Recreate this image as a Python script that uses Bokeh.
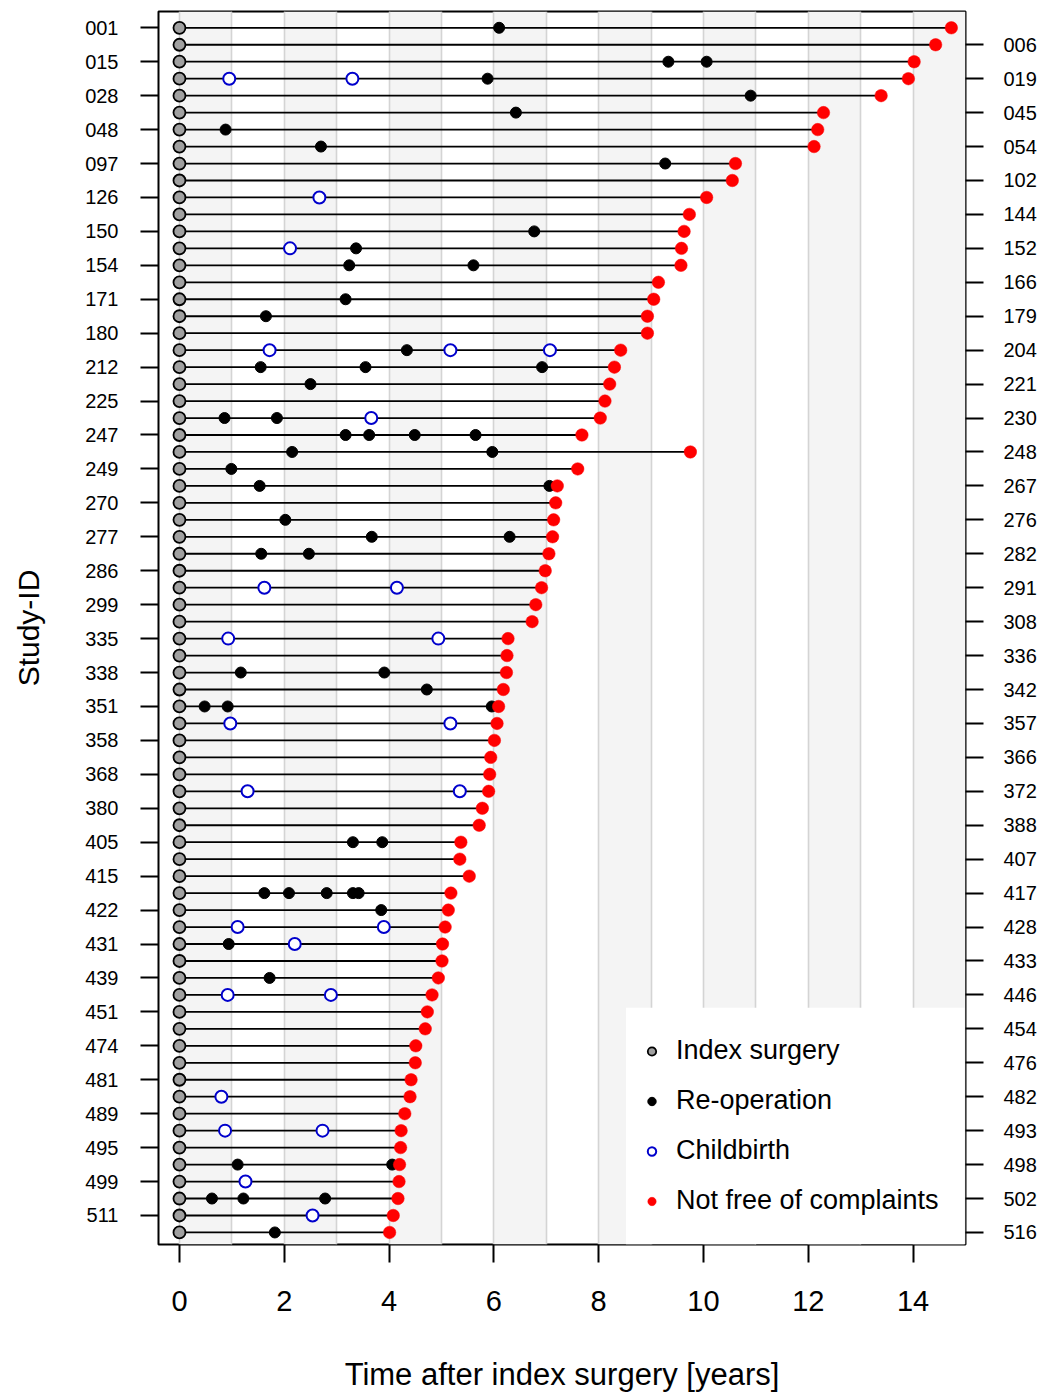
from bokeh.plotting import figure
from bokeh.models import (ColumnDataSource, FixedTicker, LinearAxis, Range1d,
                          Legend, LegendItem, BoxAnnotation)
from bokeh.embed import file_html
from bokeh.resources import INLINE

# ---------------- data ----------------
ids = ["001", "006", "015", "019", "028", "045", "048", "054", "097", "102",
       "126", "144", "150", "152", "154", "166", "171", "179", "180", "204",
       "212", "221", "225", "230", "247", "248", "249", "267", "270", "276",
       "277", "282", "286", "291", "299", "308", "335", "336", "338", "342",
       "351", "357", "358", "366", "368", "372", "380", "388", "405", "407",
       "415", "417", "422", "428", "431", "433", "439", "446", "451", "454",
       "474", "476", "481", "482", "489", "493", "495", "498", "499", "502",
       "511", "516"]

# time of "not free of complaints" (end of each line), years
end_years = [14.73, 14.43, 14.02, 13.91, 13.39, 12.29, 12.18, 12.11, 10.61, 10.55,
             10.06, 9.73, 9.63, 9.58, 9.57, 9.14, 9.05, 8.93, 8.93, 8.42,
             8.30, 8.21, 8.12, 8.03, 7.68, 9.75, 7.60, 7.21, 7.18, 7.14,
             7.12, 7.05, 6.98, 6.91, 6.80, 6.73, 6.27, 6.25, 6.24, 6.18,
             6.09, 6.06, 6.01, 5.94, 5.92, 5.90, 5.78, 5.72, 5.37, 5.35,
             5.53, 5.18, 5.13, 5.07, 5.02, 5.01, 4.94, 4.82, 4.73, 4.69,
             4.51, 4.50, 4.42, 4.40, 4.30, 4.23, 4.22, 4.20, 4.19, 4.17,
             4.08, 4.01]

reoperations = {
    "001": [6.10], "015": [9.33, 10.06], "019": [5.88], "028": [10.90],
    "045": [6.42], "048": [0.88], "054": [2.70], "097": [9.27],
    "150": [6.77], "152": [3.37], "154": [3.24, 5.61], "171": [3.17],
    "179": [1.65], "204": [4.34], "212": [1.55, 3.55, 6.92], "221": [2.50],
    "230": [0.86, 1.86], "247": [3.17, 3.62, 4.49, 5.65], "248": [2.15, 5.97],
    "249": [0.99], "267": [1.53, 7.06], "276": [2.02], "277": [3.67, 6.30],
    "282": [1.56, 2.47], "338": [1.17, 3.91], "342": [4.72],
    "351": [0.48, 0.92, 5.96], "405": [3.31, 3.87],
    "417": [1.62, 2.09, 2.81, 3.31, 3.42], "422": [3.85], "431": [0.94],
    "439": [1.72], "498": [1.11, 4.06], "502": [0.62, 1.22, 2.78], "516": [1.82],
}

childbirths = {
    "019": [0.95, 3.30], "126": [2.67], "152": [2.11], "204": [1.72, 5.17, 7.07],
    "230": [3.66], "291": [1.62, 4.15], "335": [0.93, 4.94], "357": [0.97, 5.17],
    "372": [1.30, 5.35], "428": [1.11, 3.90], "431": [2.20], "446": [0.92, 2.89],
    "482": [0.80], "493": [0.87, 2.73], "499": [1.26], "511": [2.54],
}

x_ticks = [0, 2, 4, 6, 8, 10, 12, 14]

# ---------------- build sources ----------------
n = len(ids)
row_y = [n - i for i in range(n)]
y_of = dict(zip(ids, row_y))

seg_src = ColumnDataSource(dict(x0=[0.0] * n, x1=end_years, y=row_y))
idx_src = ColumnDataSource(dict(x=[0.0] * n, y=row_y))
end_src = ColumnDataSource(dict(x=end_years, y=row_y))

rx, ry = [], []
for sid, times in reoperations.items():
    for t in times:
        rx.append(t)
        ry.append(y_of[sid])
reop_src = ColumnDataSource(dict(x=rx, y=ry))

bx, by = [], []
for sid, times in childbirths.items():
    for t in times:
        bx.append(t)
        by.append(y_of[sid])
birth_src = ColumnDataSource(dict(x=bx, y=by))

FONT = "Liberation Sans"

p = figure(width=1054, height=1394,
           x_range=Range1d(-0.4, 15.0), y_range=Range1d(0.29, 72.96),
           output_backend="svg", toolbar_location=None,
           min_border_left=158, min_border_right=89,
           min_border_top=11, min_border_bottom=150,
           x_axis_label="Time after index surgery [years]",
           y_axis_label="Study-ID")
p.background_fill_color = "white"
p.border_fill_color = "white"
p.outline_line_color = "black"
p.outline_line_width = 2
p.outline_line_alpha = 1

# vertical grid + alternating bands
p.xgrid.ticker = FixedTicker(ticks=[-0.4] + list(range(0, 16)))
p.xgrid.grid_line_color = "#d4d4d4"
p.xgrid.grid_line_width = 1.6
p.xgrid.band_fill_color = "#f4f4f4"
p.xgrid.band_fill_alpha = 1
p.ygrid.grid_line_color = None

# x axis
xa = p.xaxis[0]
xa.ticker = FixedTicker(ticks=x_ticks)
xa.axis_line_color = None
xa.major_tick_in = 0
xa.major_tick_out = 18
xa.major_tick_line_width = 2
xa.minor_tick_line_color = None
xa.major_label_text_font = FONT
xa.major_label_text_font_size = "29px"
xa.major_label_text_color = "black"
xa.major_label_standoff = 28
xa.axis_label_text_font = FONT
xa.axis_label_text_font_size = "31px"
xa.axis_label_text_font_style = "normal"
xa.axis_label_text_color = "black"
xa.axis_label_standoff = 43

# left axis (odd rows)
left_ticks = [row_y[i] for i in range(0, n, 2)]
right_ticks = [row_y[i] for i in range(1, n, 2)]
ya = p.yaxis[0]
ya.ticker = FixedTicker(ticks=left_ticks)
ya.major_label_overrides = {row_y[i]: ids[i] for i in range(0, n, 2)}
ya.axis_line_color = None
ya.major_tick_in = 0
ya.major_tick_out = 18
ya.major_tick_line_width = 2
ya.minor_tick_line_color = None
ya.major_label_text_font = FONT
ya.major_label_text_font_size = "20px"
ya.major_label_text_color = "black"
ya.major_label_standoff = 22
ya.axis_label_text_font = FONT
ya.axis_label_text_font_size = "30px"
ya.axis_label_text_font_style = "normal"
ya.axis_label_text_color = "black"
ya.axis_label_standoff = 37

ra = LinearAxis(ticker=FixedTicker(ticks=right_ticks),
                major_label_overrides={row_y[i]: ids[i] for i in range(1, n, 2)})
ra.axis_line_color = None
ra.major_tick_in = 0
ra.major_tick_out = 18
ra.major_tick_line_width = 2
ra.minor_tick_line_color = None
ra.major_label_text_font = FONT
ra.major_label_text_font_size = "20px"
ra.major_label_text_color = "black"
ra.major_label_standoff = 20
p.add_layout(ra, "right")

# ---------------- glyphs ----------------
p.segment(x0="x0", x1="x1", y0="y", y1="y", source=seg_src,
          line_color="black", line_width=1.8)
r_idx = p.scatter("x", "y", source=idx_src, size=12, marker="circle",
                  fill_color="#a0a0a0", line_color="black", line_width=1.8)
r_reop = p.scatter("x", "y", source=reop_src, size=11, marker="circle",
                   fill_color="black", line_color="black", line_width=1)
r_birth = p.scatter("x", "y", source=birth_src, size=12, marker="circle",
                    fill_color="white", line_color="#0000cc", line_width=2)
r_end = p.scatter("x", "y", source=end_src, size=12.5, marker="circle",
                  fill_color="#ff0000", line_color="#ff0000", line_width=0.5)

# ---------------- legend ----------------
box = BoxAnnotation(left=8.52, right=14.98, bottom=0.29, top=14.25,
                    fill_color="white", fill_alpha=1, line_color=None)
p.add_layout(box)

legend = Legend(items=[
    LegendItem(label="Index surgery", renderers=[r_idx]),
    LegendItem(label="Re-operation", renderers=[r_reop]),
    LegendItem(label="Childbirth", renderers=[r_birth]),
    LegendItem(label="Not free of complaints", renderers=[r_end]),
], location=(473, 18), padding=10, spacing=19, margin=0,
    glyph_width=21, glyph_height=30, label_height=30, label_standoff=14,
    background_fill_alpha=0, border_line_alpha=0,
    label_text_font=FONT, label_text_font_size="27px", label_text_color="black")
p.add_layout(legend, "center")

open("out.html", "w").write(file_html(p, INLINE))
